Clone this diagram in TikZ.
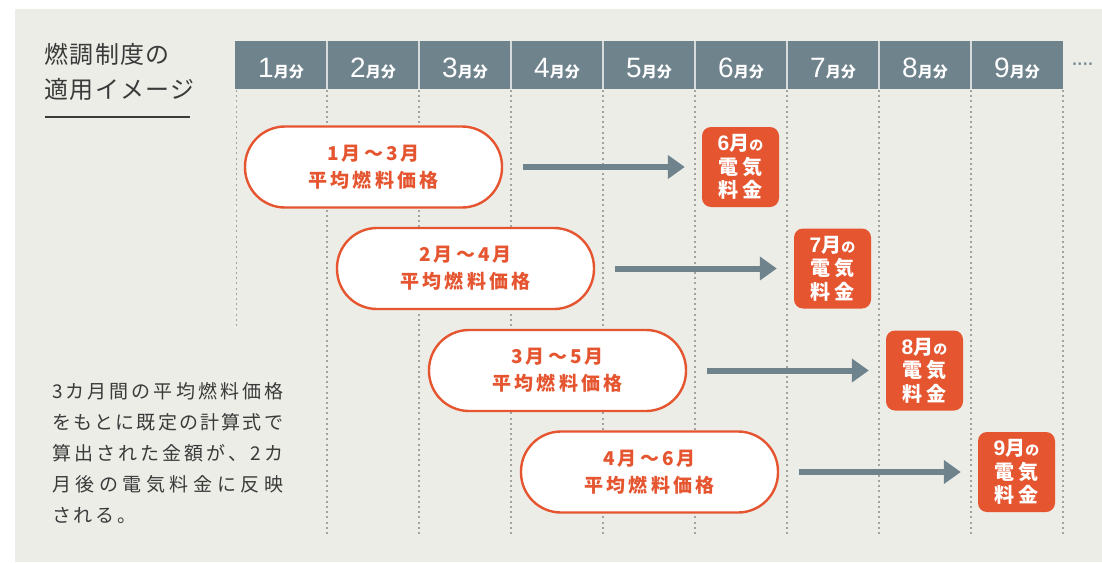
\documentclass[tikz,border=0pt]{standalone}
\usepackage{fontspec}
\setmainfont{Noto Sans CJK JP}
\newfontfamily\jp{Noto Sans CJK JP}
\newfontfamily\jpsp{Noto Sans CJK JP}[LetterSpace=16]
\newfontfamily\jptitle{Noto Sans CJK JP}[LetterSpace=6]
\newfontfamily\latinsans{Liberation Sans}
\usetikzlibrary{arrows.meta}
\definecolor{bgc}{HTML}{EDEDE8}
\definecolor{slate}{HTML}{6F838D}
\definecolor{redc}{HTML}{E55530}
\definecolor{dark}{HTML}{3A3A3A}
\definecolor{dotc}{HTML}{A3A3A3}
\definecolor{divc}{HTML}{D6DADC}
\tikzset{
  pill/.style={draw=redc, line width=2.4pt, fill=white, rounded corners=40pt,
    minimum width=257pt, minimum height=81pt, inner sep=0pt, text=redc,
    align=center, font=\jpsp\bfseries\fontsize{19}{27}\selectfont},
  bill/.style={fill=redc, rounded corners=9pt, minimum width=77pt, minimum height=80pt,
    inner sep=0pt, text=white, align=center, font=\jpsp\bfseries\fontsize{20}{23.5}\selectfont},
  arr/.style={draw=slate, line width=6pt, -{Triangle[length=17pt,width=23pt]},
    shorten <=20pt, shorten >=17pt},
  grid/.style={draw=dotc, line width=1.4pt, dash pattern=on 2pt off 3.2pt},
  hdr/.style={anchor=base, text=white, inner sep=0pt},
  desc/.style={anchor=base west, text=dark, inner sep=0pt, font=\jp\fontsize{19}{31}\selectfont},
}
\newcommand{\myhead}[1]{{\fontspec{Liberation Sans}\fontsize{28}{28}\selectfont #1}{\jp\bfseries\fontsize{15}{15}\selectfont 月分}}
\newcommand{\mybill}[1]{{\fontspec{Liberation Sans}\bfseries\fontsize{21}{21}\selectfont #1}月{\fontsize{14}{14}\selectfont の}\\電気\\料金}
\newcommand{\hf}{\hskip 0pt plus 1fil\relax}
\begin{document}
\begin{tikzpicture}[x=1pt,y=-1pt]
\useasboundingbox (0,0) rectangle (1102,562);
\fill[white] (0,0) rectangle (1102,562);
\fill[bgc] (15,9) rectangle (1102,562);
% header bar
\fill[slate] (235,41) rectangle (1063,89);
\foreach \i in {1,...,8} \draw[divc, line width=1.3pt] (235+92*\i,41) -- (235+92*\i,89);
% grid lines
\draw[grid] (236.5,90) -- (236.5,329);
\foreach \i in {1,...,9} \draw[grid] (235+92*\i,90) -- (235+92*\i,535);
% header labels
\node[hdr] (h1) at (281,77) {\myhead{1}};
\node[hdr] (h2) at (373,77) {\myhead{2}};
\node[hdr] (h3) at (465,77) {\myhead{3}};
\node[hdr] (h4) at (557,77) {\myhead{4}};
\node[hdr] (h5) at (649,77) {\myhead{5}};
\node[hdr] (h6) at (741,77) {\myhead{6}};
\node[hdr] (h7) at (833,77) {\myhead{7}};
\node[hdr] (h8) at (925,77) {\myhead{8}};
\node[hdr] (h9) at (1017,77) {\myhead{9}};
\node[text=slate, inner sep=0pt, font=\latinsans\bfseries\fontsize{16}{16}\selectfont] (more) at (1083,66) {····};
% title
\node[anchor=base west, inner sep=0pt, text=dark, font=\jptitle\fontsize{24}{24}\selectfont] (t1) at (44,63) {燃調制度の};
\node[anchor=base west, inner sep=0pt, text=dark, font=\jptitle\fontsize{24}{24}\selectfont] (t2) at (44,98) {適用イメージ};
\draw[dark, line width=1.5pt] (45,117) -- (190,117);
% description
\node[desc] (d1) at (52,398) {\makebox[231pt][s]{3\hf カ\hf 月\hf 間\hf の\hf 平\hf 均\hf 燃\hf 料\hf 価\hf 格}};
\node[desc] (d2) at (52,429) {\makebox[231pt][s]{を\hf も\hf と\hf に\hf 既\hf 定\hf の\hf 計\hf 算\hf 式\hf で}};
\node[desc] (d3) at (52,460) {\makebox[231pt][s]{算\hf 出\hf さ\hf れ\hf た\hf 金\hf 額\hf が\hf 、\hf 2\hf カ}};
\node[desc] (d4) at (52,491) {\makebox[231pt][s]{月\hf 後\hf の\hf 電\hf 気\hf 料\hf 金\hf に\hf 反\hf 映}};
\node[desc] (d5) at (52,522) {\makebox[84pt][s]{さ\hf れ\hf る\hf 。}};
% pills
\node[pill] (p1) at (373.5,167) {1月～3月\\平均燃料価格};
\node[pill] (p2) at (465.5,268.5) {2月～4月\\平均燃料価格};
\node[pill] (p3) at (557.5,370.5) {3月～5月\\平均燃料価格};
\node[pill] (p4) at (649.5,472) {4月～6月\\平均燃料価格};
% bills
\node[bill] (b6) at (740.5,167) {\mybill{6}};
\node[bill] (b7) at (832.5,268.5) {\mybill{7}};
\node[bill] (b8) at (924.5,370.5) {\mybill{8}};
\node[bill] (b9) at (1016.5,472) {\mybill{9}};
% arrows
\draw[arr] (p1.east) -- (b6.west);
\draw[arr] (p2.east) -- (b7.west);
\draw[arr] (p3.east) -- (b8.west);
\draw[arr] (p4.east) -- (b9.west);
\end{tikzpicture}
\end{document}
